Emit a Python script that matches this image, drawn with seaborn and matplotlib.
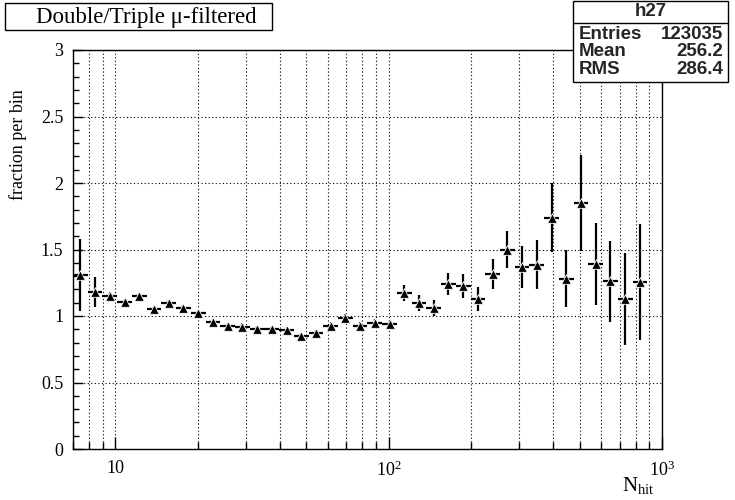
import numpy as np
import matplotlib
matplotlib.use("Agg")
import matplotlib.pyplot as plt
from matplotlib.patches import Rectangle
from matplotlib.lines import Line2D
from matplotlib.ticker import MultipleLocator, FuncFormatter, LogLocator, NullFormatter
import seaborn as sns

# ---------------------- DATA ---------------------- #
# histogram binning: 40 log bins between 7 and 1000 hits (last one empty)
BIN_LO, BIN_HI, N_BINS = 7.0, 1000.0, 40

frac = [1.31, 1.18, 1.15, 1.105, 1.15, 1.05, 1.10, 1.06, 1.02, 0.955,
        0.925, 0.92, 0.90, 0.90, 0.895, 0.85, 0.87, 0.925, 0.985, 0.925,
        0.95, 0.94, 1.17, 1.10, 1.06, 1.24, 1.225, 1.13, 1.315, 1.50,
        1.37, 1.385, 1.74, 1.28, 1.85, 1.39, 1.26, 1.13, 1.255]
frac_err = [0.27, 0.11, 0.03, 0.02, 0.02, 0.02, 0.02, 0.02, 0.02, 0.02,
            0.025, 0.025, 0.025, 0.025, 0.025, 0.025, 0.025, 0.03, 0.03, 0.03,
            0.03, 0.03, 0.06, 0.06, 0.06, 0.08, 0.09, 0.09, 0.115, 0.14,
            0.16, 0.185, 0.26, 0.215, 0.36, 0.31, 0.305, 0.345, 0.435]

title_text = "Double/Triple \u03bc-filtered"
stats_name = "h27"
stats_rows = [("Entries", "123035"), ("Mean", "256.2"), ("RMS", "286.4")]
xtick_vals = [10, 100, 1000]
xtick_text = ["10", "$10^{2}$", "$10^{3}$"]

# ---------------------- STYLE ---------------------- #
sns.set_theme(style="white")
plt.rcParams["font.family"] = ["Liberation Serif", "DejaVu Serif"]
plt.rcParams["mathtext.fontset"] = "custom"
plt.rcParams["mathtext.rm"] = "Liberation Serif"
plt.rcParams["mathtext.it"] = "Liberation Serif:italic"

W, H = 735, 500
fig = plt.figure(figsize=(W / 100, H / 100), dpi=100)
fig.patch.set_facecolor("white")

def fx(px):
    return px / W

def fy(py):
    return 1 - py / H

ax = fig.add_axes([fx(73), fy(449), fx(662) - fx(73), fy(50) - fy(449)])
ax.set_facecolor("white")

edges = np.geomspace(BIN_LO, BIN_HI, N_BINS + 1)
lo = edges[:len(frac)]
hi = edges[1:len(frac) + 1]
xc = np.sqrt(lo * hi)
y = np.array(frac)
ye = np.array(frac_err)

ax.set_xscale("log")
ax.set_xlim(BIN_LO, BIN_HI)
ax.set_ylim(0, 3)

# grid (ROOT style dotted)
dots = (0, (1, 2.2))
ax.grid(True, which="both", axis="x", color="black", linestyle=dots, linewidth=0.8)
ax.grid(True, which="major", axis="y", color="black", linestyle=dots, linewidth=0.8)
ax.set_axisbelow(True)

ax.errorbar(xc, y, yerr=ye, xerr=[xc - lo, hi - xc], fmt="none",
            ecolor="black", elinewidth=1.6, capsize=0, zorder=2)
sns.scatterplot(x=xc, y=y, marker="^", color="black", s=48,
                edgecolor="white", linewidth=0.6, ax=ax, zorder=3)

# ticks
ax.yaxis.set_major_locator(MultipleLocator(0.5))
ax.yaxis.set_minor_locator(MultipleLocator(0.1))
ax.yaxis.set_major_formatter(FuncFormatter(lambda v, p: "%g" % v))
ax.set_xticks(xtick_vals)
ax.set_xticklabels(xtick_text)
ax.xaxis.set_minor_locator(LogLocator(base=10, subs=np.arange(2, 10)))
ax.xaxis.set_minor_formatter(NullFormatter())
ax.tick_params(axis="both", which="both", direction="in", color="black",
               labelcolor="black", bottom=True, left=True, top=False, right=False)
ax.tick_params(axis="y", which="major", length=7, width=1, labelsize=13, pad=7)
ax.tick_params(axis="y", which="minor", length=4, width=1)
ax.tick_params(axis="x", which="major", length=9, width=1, labelsize=13, pad=8)
ax.tick_params(axis="x", which="minor", length=5, width=1)
for s in ax.spines.values():
    s.set_color("black")
    s.set_linewidth(1)

# axis titles
fig.text(fx(18), fy(145), "fraction per bin", rotation=90, ha="center",
         va="center", fontsize=13, color="black")
fig.text(fx(655), fy(486), r"N$_{\mathrm{hit}}$", ha="right", va="center",
         fontsize=15, color="black")

# title box
fig.patches.append(Rectangle((fx(5), fy(30)), fx(272) - fx(5), fy(3) - fy(30),
                             transform=fig.transFigure, facecolor="white",
                             edgecolor="black", linewidth=1))
fig.text(fx(146), fy(17), title_text, ha="center", va="center",
         fontsize=16.5, color="black")

# stats box
bx0, bx1, by0, by1 = 573, 728, 1, 82
fig.patches.append(Rectangle((fx(bx0), fy(by1)), fx(bx1) - fx(bx0), fy(by0) - fy(by1),
                             transform=fig.transFigure, facecolor="white",
                             edgecolor="black", linewidth=1, zorder=5))
fig.lines.append(Line2D([fx(bx0), fx(bx1)], [fy(23), fy(23)],
                        transform=fig.transFigure, color="black", linewidth=1, zorder=6))
sans = ["Liberation Sans", "DejaVu Sans"]
fig.text(fx((bx0 + bx1) / 2), fy(12), stats_name, ha="center", va="center",
         fontsize=13.5, fontweight="bold", family=sans, zorder=7)
for i, (k, v) in enumerate(stats_rows):
    yy = fy(34 + i * 18)
    fig.text(fx(579), yy, k, ha="left", va="center", fontsize=13.5,
             fontweight="bold", family=sans, zorder=7)
    fig.text(fx(723), yy, v, ha="right", va="center", fontsize=13.5,
             fontweight="bold", family=sans, zorder=7)

fig.savefig("out.png", dpi=100, facecolor="white")
